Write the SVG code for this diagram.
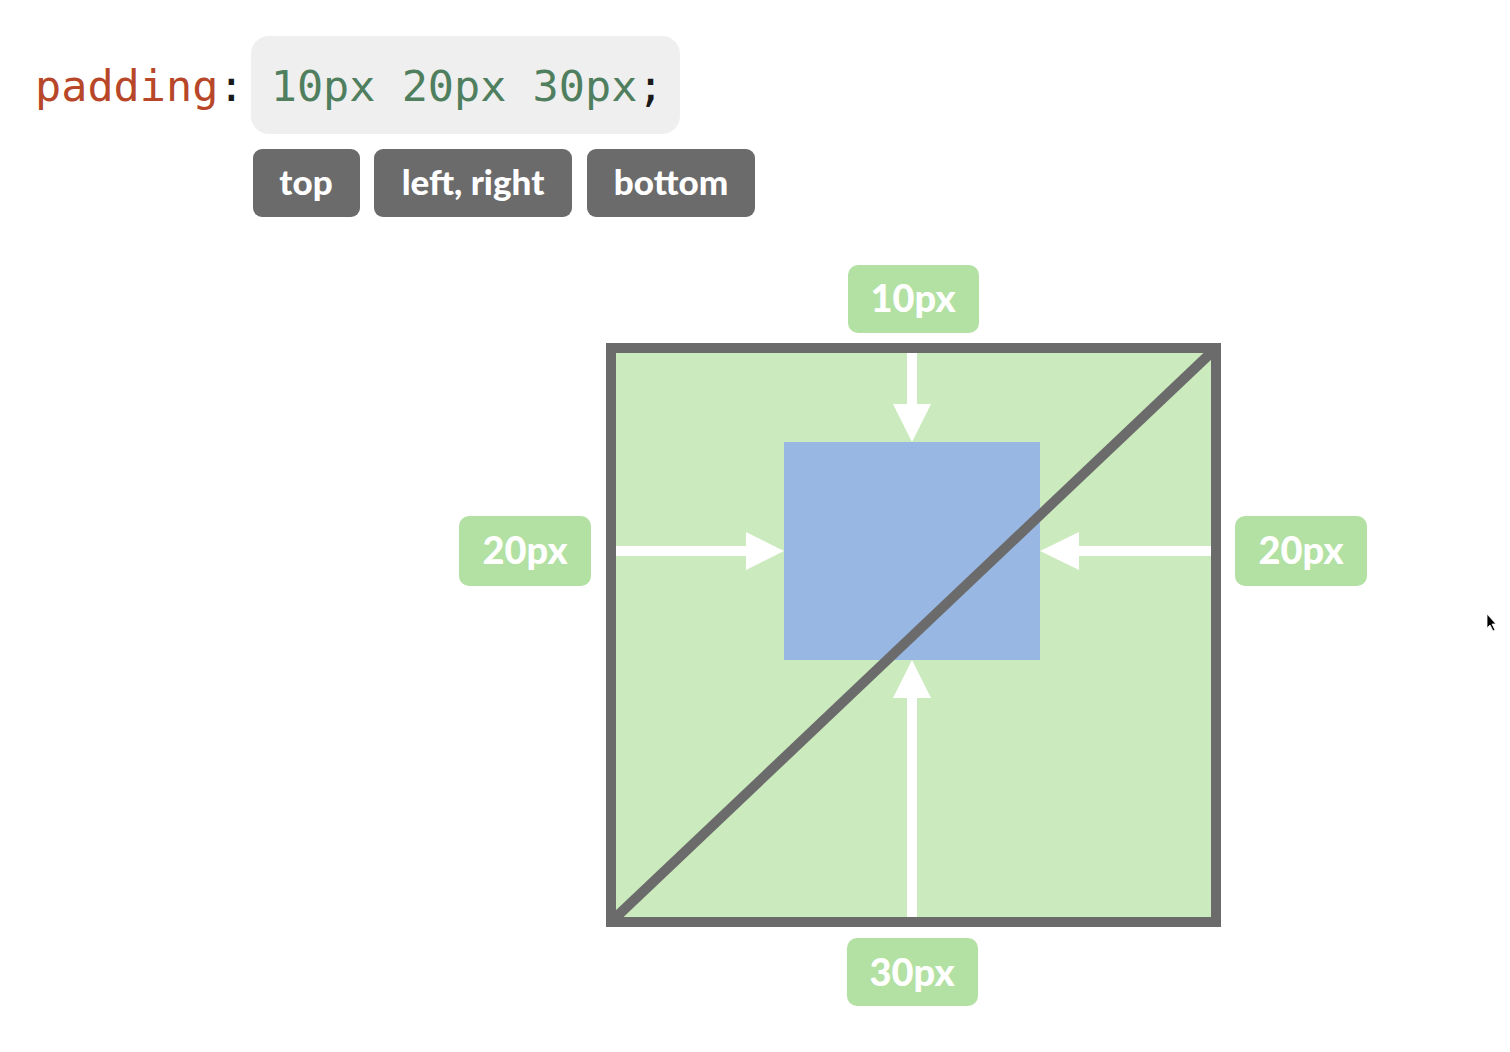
<svg xmlns="http://www.w3.org/2000/svg" width="1510" height="1052" viewBox="0 0 1510 1052">
<style>
.code{font-family:"DejaVu Sans Mono","Liberation Mono",monospace;font-size:43.5px}
.tag{fill:#6b6b6b}
.tagt{font-family:Lato,"Open Sans",sans-serif;font-weight:900;font-size:35px;fill:#ffffff;text-anchor:middle}
.lab{fill:#b3e0a3}
.labt{font-family:Lato,"Open Sans",sans-serif;font-weight:900;font-size:38px;fill:#ffffff;text-anchor:middle}
.arr{stroke:#ffffff;stroke-width:10;fill:none}
.head{fill:#ffffff}
</style>
<rect width="1510" height="1052" fill="#ffffff"/>
<g id="code">
<rect x="251" y="36" width="429" height="98" rx="18" fill="#efefef"/>
<text class="code" x="35" y="101"><tspan fill="#b8472a">padding</tspan><tspan fill="#1a1a1a">:</tspan><tspan fill="#4f7f5e"> 10px 20px 30px</tspan><tspan fill="#1a1a1a">;</tspan></text>
</g>
<g id="tag-top"><rect class="tag" x="253" y="149" width="107" height="68" rx="9"/><text class="tagt" x="306" y="195">top</text></g>
<g id="tag-leftright"><rect class="tag" x="374" y="149" width="198" height="68" rx="9"/><text class="tagt" x="473" y="195">left, right</text></g>
<g id="tag-bottom"><rect class="tag" x="587" y="149" width="168" height="68" rx="9"/><text class="tagt" x="671" y="195">bottom</text></g>
<g id="box">
<rect x="611" y="348" width="605" height="574" fill="#cbeabd"/>
<rect id="content" x="784" y="442" width="256" height="218" fill="#99b7e3"/>
</g>
<g id="connectors">
<line class="arr" x1="912" y1="353" x2="912" y2="406"/>
<polygon class="head" points="893,404 931,404 912,442"/>
<line class="arr" x1="616" y1="551" x2="748" y2="551"/>
<polygon class="head" points="746,532 746,570 784,551"/>
<line class="arr" x1="1211" y1="551" x2="1077" y2="551"/>
<polygon class="head" points="1079,532 1079,570 1040,551"/>
<line class="arr" x1="912" y1="917" x2="912" y2="696"/>
<polygon class="head" points="893,698 931,698 912,660"/>
</g>
<g id="frame">
<line x1="613" y1="920" x2="1214" y2="350" stroke="#6b6b6b" stroke-width="10"/>
<rect x="611" y="348" width="605" height="574" fill="none" stroke="#6b6b6b" stroke-width="10"/>
</g>
<g id="label-top"><rect class="lab" x="848" y="265" width="131" height="68" rx="10"/><text class="labt" x="913" y="312">10px</text></g>
<g id="label-left"><rect class="lab" x="459" y="516" width="132" height="70" rx="10"/><text class="labt" x="525" y="564">20px</text></g>
<g id="label-right"><rect class="lab" x="1235" y="516" width="132" height="70" rx="10"/><text class="labt" x="1301" y="564">20px</text></g>
<g id="label-bottom"><rect class="lab" x="847" y="938" width="131" height="68" rx="10"/><text class="labt" x="912" y="986">30px</text></g>
<path d="M1487,614 L1487,628 L1490,625 L1493,631 L1495,630 L1492,624 L1496,624 Z" fill="#000000" stroke="#ffffff" stroke-width="0.8"/>
</svg>
